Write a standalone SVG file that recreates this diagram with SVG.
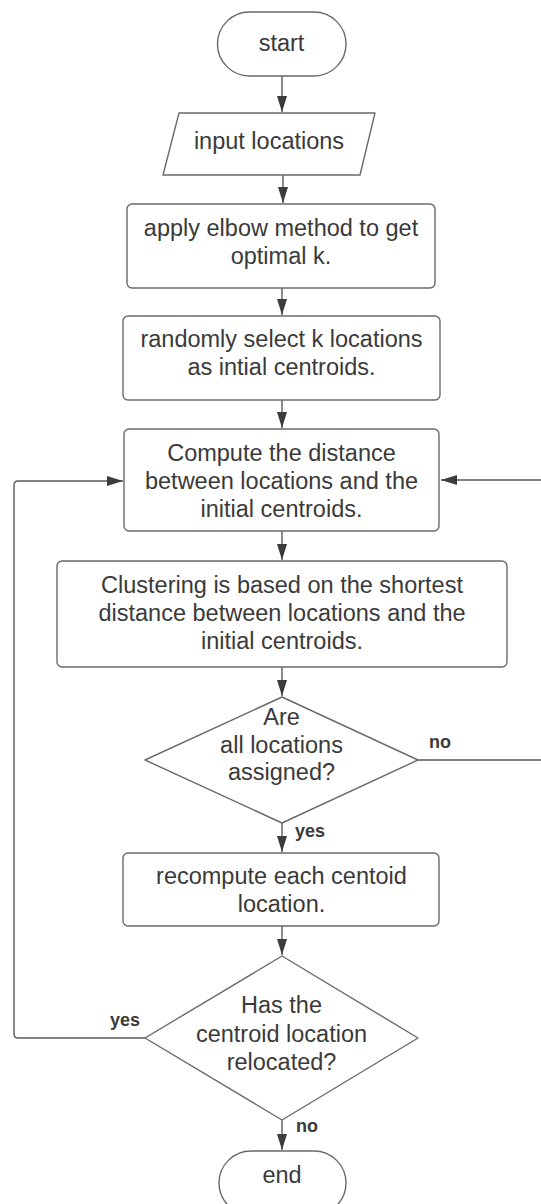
<svg xmlns="http://www.w3.org/2000/svg" width="541" height="1204" viewBox="0 0 541 1204">
  <style>
    .shape { fill: #ffffff; stroke: #6a6a6a; stroke-width: 1.4; }
    .txt { font-family: "Liberation Sans", Arial, sans-serif; font-size: 23.5px; fill: #3a3a3a; text-anchor: middle; }
    .lbl { font-family: "Liberation Sans", Arial, sans-serif; font-size: 18px; font-weight: bold; fill: #3a3a3a; }
    .conn { fill: none; stroke: #5a5a5a; stroke-width: 1.4; }
  </style>
  <defs>
    <marker id="arrow" markerUnits="userSpaceOnUse" markerWidth="16" markerHeight="10" refX="16" refY="5" orient="auto">
      <path d="M0,0 L16,5 L0,10 z" fill="#3c3c3c"/>
    </marker>
  </defs>

  <rect width="541" height="1204" fill="#ffffff"/>

  <!-- connectors -->
  <g id="connectors">
    <path class="conn" d="M282,76 V112" marker-end="url(#arrow)"/>
    <path class="conn" d="M283,175 V203" marker-end="url(#arrow)"/>
    <path class="conn" d="M282,288 V315" marker-end="url(#arrow)"/>
    <path class="conn" d="M282,400 V428" marker-end="url(#arrow)"/>
    <path class="conn" d="M282,531 V560" marker-end="url(#arrow)"/>
    <path class="conn" d="M282,667 V696" marker-end="url(#arrow)"/>
    <path class="conn" d="M282,823 V852" marker-end="url(#arrow)"/>
    <path class="conn" d="M282,926 V955" marker-end="url(#arrow)"/>
    <path class="conn" d="M282,1120 V1150" marker-end="url(#arrow)"/>
    <!-- "no" branch back to the distance step -->
    <path class="conn" d="M418,760 H560 V480 H441" marker-end="url(#arrow)"/>
    <!-- "yes" branch back to the distance step -->
    <path class="conn" d="M145,1038 H18 Q14,1038 14,1034 V485 Q14,481 18,481 H123" marker-end="url(#arrow)"/>
    <text class="lbl" x="429" y="748">no</text>
    <text class="lbl" x="295" y="837">yes</text>
    <text class="lbl" x="110" y="1026">yes</text>
    <text class="lbl" x="296" y="1132">no</text>
  </g>

  <g id="start">
    <rect class="shape" x="217.5" y="12" width="128.5" height="64" rx="32"/>
    <text class="txt" x="281.5" y="51">start</text>
  </g>

  <g id="input">
    <path class="shape" d="M179,113 H375 L360,175 H163 Z" stroke-linejoin="round"/>
    <text class="txt" x="269" y="149">input locations</text>
  </g>

  <g id="elbow">
    <rect class="shape" x="127" y="204" width="308" height="84" rx="5"/>
    <text class="txt" x="281" y="236">apply elbow method to get</text>
    <text class="txt" x="281" y="264">optimal k.</text>
  </g>

  <g id="select">
    <rect class="shape" x="123" y="316" width="317" height="84" rx="5"/>
    <text class="txt" x="281.5" y="347">randomly select k locations</text>
    <text class="txt" x="281.5" y="375">as intial centroids.</text>
  </g>

  <g id="distance">
    <rect class="shape" x="124" y="429" width="315" height="102" rx="5"/>
    <text class="txt" x="281.5" y="461">Compute the distance</text>
    <text class="txt" x="281.5" y="489">between locations and the</text>
    <text class="txt" x="281.5" y="517">initial centroids.</text>
  </g>

  <g id="cluster">
    <rect class="shape" x="57" y="561" width="450" height="106" rx="5"/>
    <text class="txt" x="282" y="593">Clustering is based on the shortest</text>
    <text class="txt" x="282" y="621">distance between locations and the</text>
    <text class="txt" x="282" y="649">initial centroids.</text>
  </g>

  <g id="assigned">
    <path class="shape" d="M282,697 L418,760 L282,823 L145,760 Z" stroke-linejoin="round"/>
    <text class="txt" x="281.5" y="725">Are</text>
    <text class="txt" x="281.5" y="753">all locations</text>
    <text class="txt" x="281.5" y="780">assigned?</text>
  </g>

  <g id="recompute">
    <rect class="shape" x="123" y="853" width="316" height="73" rx="5"/>
    <text class="txt" x="281.5" y="884">recompute each centoid</text>
    <text class="txt" x="281.5" y="912">location.</text>
  </g>

  <g id="relocated">
    <path class="shape" d="M282,956 L418,1038 L282,1120 L145,1038 Z" stroke-linejoin="round"/>
    <text class="txt" x="281.5" y="1013">Has the</text>
    <text class="txt" x="281.5" y="1041.5">centroid location</text>
    <text class="txt" x="281.5" y="1069.5">relocated?</text>
  </g>

  <g id="end">
    <rect class="shape" x="219" y="1151" width="127" height="64" rx="32"/>
    <text class="txt" x="282" y="1183">end</text>
  </g>
</svg>
